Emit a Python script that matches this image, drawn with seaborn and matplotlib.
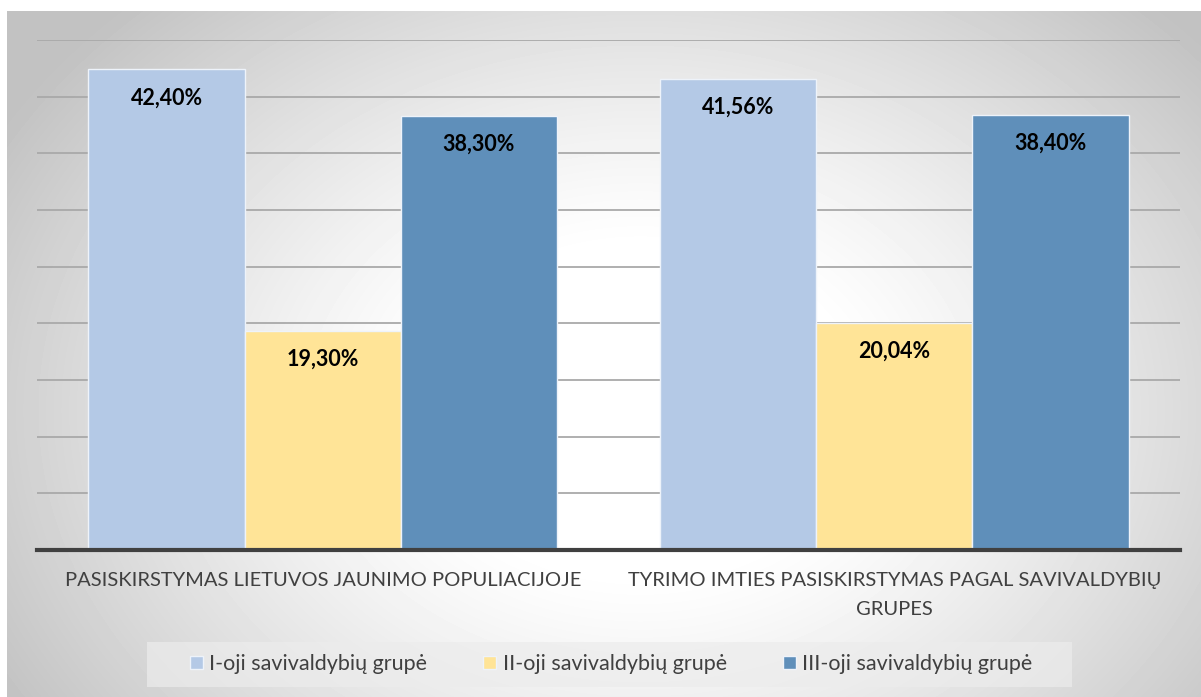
import matplotlib
matplotlib.use("Agg")
import matplotlib.pyplot as plt
from matplotlib.patches import Rectangle
import numpy as np
import pandas as pd
import seaborn as sns

categories = [
    "PASISKIRSTYMAS LIETUVOS JAUNIMO POPULIACIJOJE",
    "TYRIMO IMTIES PASISKIRSTYMAS PAGAL SAVIVALDYBIŲ\nGRUPES",
]
groups = [
    "I-oji savivaldybių grupė",
    "II-oji savivaldybių grupė",
    "III-oji savivaldybių grupė",
]
group1 = [42.40, 41.56]
group2 = [19.30, 20.04]
group3 = [38.30, 38.40]
colors = ["#b4c9e6", "#ffe497", "#5f8fba"]

df = pd.DataFrame({
    "category": categories * 3,
    "group": [g for g in groups for _ in categories],
    "value": group1 + group2 + group3,
})

sns.set_theme(style="white")
plt.rcParams["font.family"] = ["Lato", "DejaVu Sans"]

W, H = 1201, 697
fig = plt.figure(figsize=(W / 100, H / 100), dpi=100)
fig.patch.set_facecolor("white")

# radial grey-to-white background panel (office chart style)
bg = fig.add_axes([7 / W, 0, 1 - 7 / W, 1 - 11 / H])
yy, xx = np.mgrid[11:697, 7:1201]
cx, cy = 640, 410
dist = np.sqrt(((xx - cx) / 600.0) ** 2 + ((yy - cy) / 460.0) ** 2)
shade = 1 - 0.28 * np.clip(dist - 0.35, 0, None) ** 1.2
shade = np.clip(shade, 0.76, 1.0)
bg.imshow(shade, cmap="gray", vmin=0, vmax=1, aspect="auto",
          interpolation="bilinear")
bg.set_axis_off()

# legend backdrop, kept inside the background axes so it sits under the legend
bg.add_patch(Rectangle((147 / W, 1 - 687 / H), (1072 - 147) / W, 45 / H,
                       transform=fig.transFigure, facecolor="#ececec",
                       alpha=0.7, edgecolor="none", clip_on=False))

ax = fig.add_axes([37 / W, 1 - 550 / H, (1180 - 37) / W, (550 - 40) / H])
ax.patch.set_alpha(0)

sns.barplot(data=df, x="category", y="value", hue="group", palette=colors,
            saturation=1, width=0.82, edgecolor="#eef3fa", linewidth=1,
            legend=True, ax=ax, zorder=3)

ax.set_ylim(0, 45)
ax.set_yticks(np.arange(5, 46, 5))
ax.yaxis.grid(True, color="#a9a9a9", linewidth=1.3, zorder=0)
ax.set_axisbelow(True)
ax.tick_params(axis="y", left=False, labelleft=False)
ax.tick_params(axis="x", bottom=False, pad=10)
for lbl in ax.get_xticklabels():
    lbl.set_fontsize(14.5)
    lbl.set_color("#404040")
    lbl.set_linespacing(1.85)
ax.set_xlabel("")
ax.set_ylabel("")
for side in ["top", "right", "left"]:
    ax.spines[side].set_visible(False)
ax.spines["bottom"].set_color("#404040")
ax.spines["bottom"].set_linewidth(3)
ax.spines["bottom"].set_zorder(5)

for cont in ax.containers:
    labels = [f"{v:.2f}%".replace(".", ",") for v in cont.datavalues]
    ax.bar_label(cont, labels=labels, padding=-28, fontsize=15.5,
                 fontweight="bold", color="black", zorder=6)

handles, labs = ax.get_legend_handles_labels()
ax.legend(handles, labs, loc="center", ncol=3,
          bbox_to_anchor=(611 / W, 1 - 664 / H), bbox_transform=fig.transFigure,
          frameon=False, fontsize=15.5, handlelength=0.6, handleheight=0.6,
          handletextpad=0.3, columnspacing=2.6, labelcolor="#404040")

fig.savefig("out.png", dpi=100)
